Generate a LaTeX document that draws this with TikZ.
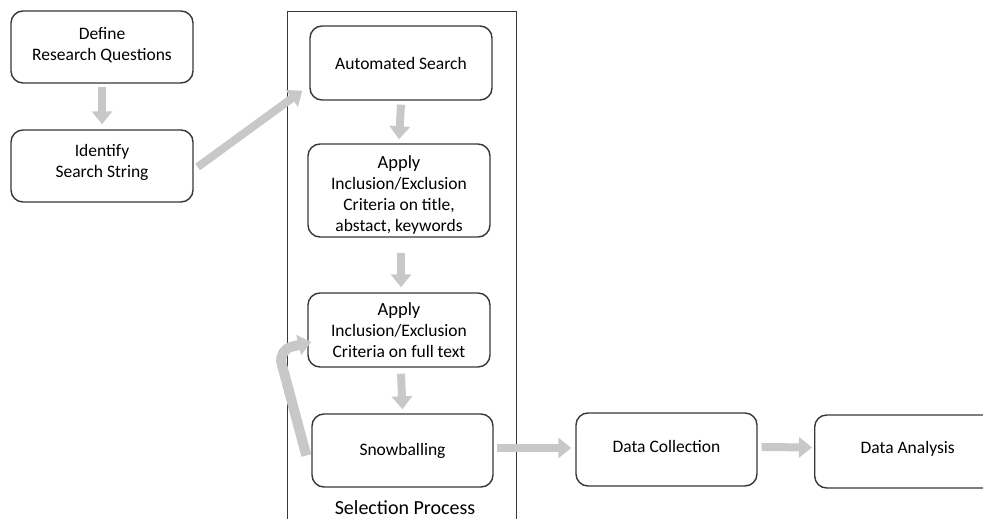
\documentclass[tikz,border=0pt]{standalone}
\usepackage{fontspec}
\setmainfont{Carlito}
\usetikzlibrary{arrows.meta}
\definecolor{arrowgray}{HTML}{C8C8C8}
\definecolor{linegray}{HTML}{383838}
\tikzset{
  stepbox/.style={draw=linegray, line width=1.4pt, rounded corners=12pt, align=center,
    inner sep=0pt, minimum width=182pt, font=\fontsize{17.5}{21}\selectfont},
  flow/.style={draw=arrowgray, line width=8pt, -{Triangle[width=20pt,length=13pt]}},
  frame/.style={draw=linegray, line width=1.3pt, inner sep=0pt}
}
\begin{document}
\begin{tikzpicture}[x=1pt,y=-1pt]
\useasboundingbox (0,0) rectangle (983,519);
\clip (0,0) rectangle (983,519);
\fill[white] (0,0) rectangle (983,519);
% selection process frame
\node[frame, minimum width=229pt, minimum height=530pt, anchor=north west] (frm) at (287,11) {};
\node[font=\fontsize{20}{24}\selectfont] (sel) at (405,508) {Selection Process};
% boxes
\node[stepbox, minimum height=72pt] (define) at (102,47) {Define\\Research Questions\\[-15pt]\mbox{}};
\node[stepbox, minimum height=72pt] (identify) at (102,166) {Identify\\Search String\\[-11pt]\mbox{}};
\node[stepbox, minimum height=74pt] (auto) at (401,63) {Automated Search};
\node[stepbox, minimum height=93pt] (apply1) at (399,190.5) {\mbox{}\\[1pt]{\fontsize{18.5}{21}\selectfont Apply}\\Inclusion/Exclusion\\Criteria on title,\\abstact, keywords};
\node[stepbox, minimum height=74pt] (apply2) at (399,330) {{\fontsize{18.5}{21}\selectfont Apply}\\Inclusion/Exclusion\\Criteria on full text};
\node[stepbox, minimum height=73pt, minimum width=181pt] (snow) at (402.5,450.5) {Snowballing};
\node[stepbox, minimum height=73pt, minimum width=181pt] (dc) at (666.5,449.5) {Data Collection\\[-15pt]\mbox{}};
\node[stepbox, minimum height=73pt, minimum width=190pt, anchor=west] (da) at (814,451.5) {\hspace*{-4pt}Data Analysis\\[-13pt]\mbox{}};
% connectors
\draw[flow] ([yshift=-3pt]define.south) -- ([yshift=5pt]identify.north);
\draw[flow] ([xshift=4pt,yshift=-1pt]identify.east) -- ([xshift=-7pt,yshift=10pt]auto.south west);
\draw[flow] ([yshift=-4pt]auto.south) -- ([yshift=4pt]apply1.north);
\draw[flow] ([xshift=2pt,yshift=-15pt]apply1.south) -- ([xshift=2pt,yshift=5pt]apply2.north);
\draw[flow] ([xshift=2pt,yshift=-6pt]apply2.south) -- ([yshift=4pt]snow.north);
\draw[flow] ([xshift=3pt,yshift=2.5pt]snow.east) -- ([xshift=-4pt,yshift=1.5pt]dc.west);
\draw[flow] ([xshift=4pt,yshift=2.5pt]dc.east) -- ([xshift=-2pt,yshift=4pt]da.west);
\coordinate (bend) at (278,350);
\draw[flow, line width=10pt, rounded corners=14pt] ([xshift=-5pt,yshift=-5pt]snow.west) -- (bend) -- ([xshift=4pt,yshift=-12pt]apply2.west);
\end{tikzpicture}
\end{document}
